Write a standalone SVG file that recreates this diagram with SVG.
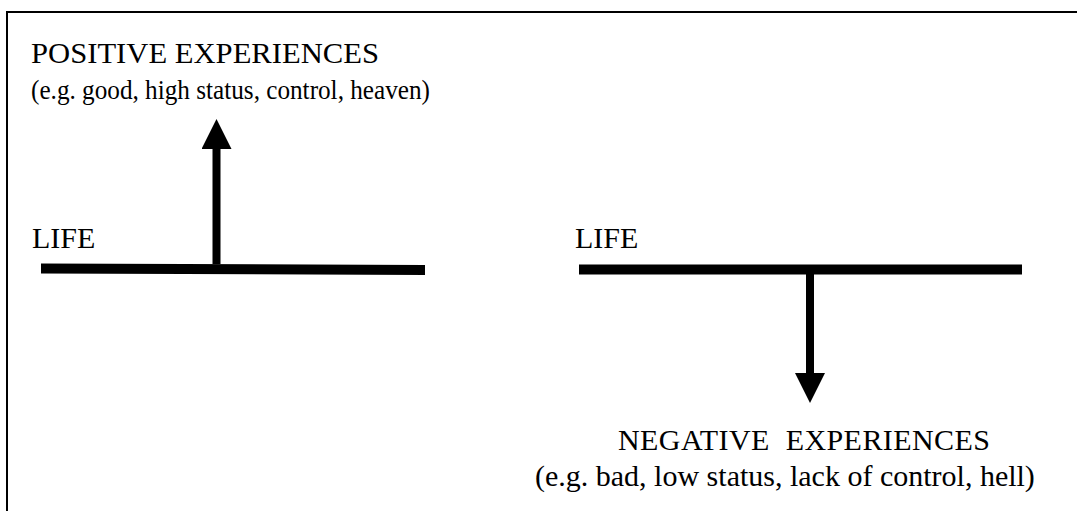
<svg xmlns="http://www.w3.org/2000/svg" width="1077" height="511" viewBox="0 0 1077 511">
<style>
text{font-family:"Liberation Serif","Times New Roman",serif;font-size:30px;fill:#000}
.small{font-size:27px}
.bar{stroke:#000;stroke-width:10;fill:none}
.shaft{stroke:#000;stroke-width:8;fill:none}
</style>
<defs>
<marker id="ah" viewBox="0 0 30 30" refX="0" refY="15" markerWidth="30" markerHeight="30" markerUnits="userSpaceOnUse" orient="auto">
<path d="M0,0 L30,15 L0,30 Z" fill="#000"/>
</marker>
</defs>
<rect x="7" y="12" width="1090" height="520" fill="#fff" stroke="#000" stroke-width="2"/>
<g id="positive">
<text x="31" y="63" textLength="348" lengthAdjust="spacingAndGlyphs">POSITIVE EXPERIENCES</text>
<text class="small" x="31" y="99" textLength="399" lengthAdjust="spacingAndGlyphs">(e.g. good, high status, control, heaven)</text>
</g>
<g id="life-left">
<text x="32" y="248">LIFE</text>
<path class="bar" d="M41,268.5 L425,270"/>
</g>
<g id="life-right">
<text x="575" y="248">LIFE</text>
<path class="bar" d="M579,269.5 L1022,269.5"/>
</g>
<g id="negative">
<text x="618" y="450" xml:space="preserve" textLength="372" lengthAdjust="spacing">NEGATIVE  EXPERIENCES</text>
<text x="535" y="486">(e.g. bad, low status, lack of control, hell)</text>
</g>
<g id="connectors">
<path class="shaft" d="M216.5,264 L216.5,149" marker-end="url(#ah)"/>
<path class="shaft" d="M810,274 L810,373" marker-end="url(#ah)"/>
</g>
</svg>
